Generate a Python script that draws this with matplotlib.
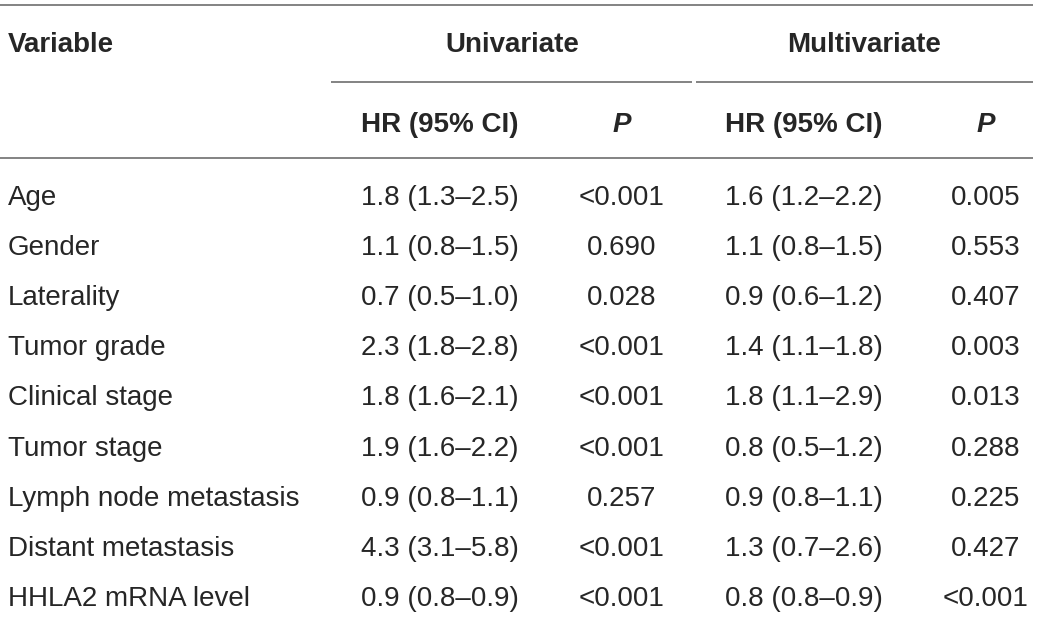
import matplotlib
matplotlib.use("Agg")
import matplotlib.pyplot as plt

variables = ["Age", "Gender", "Laterality", "Tumor grade", "Clinical stage",
             "Tumor stage", "Lymph node metastasis", "Distant metastasis",
             "HHLA2 mRNA level"]
uni_hr = ["1.8 (1.3–2.5)", "1.1 (0.8–1.5)", "0.7 (0.5–1.0)", "2.3 (1.8–2.8)",
          "1.8 (1.6–2.1)", "1.9 (1.6–2.2)", "0.9 (0.8–1.1)", "4.3 (3.1–5.8)",
          "0.9 (0.8–0.9)"]
uni_p = ["<0.001", "0.690", "0.028", "<0.001", "<0.001", "<0.001", "0.257",
         "<0.001", "<0.001"]
multi_hr = ["1.6 (1.2–2.2)", "1.1 (0.8–1.5)", "0.9 (0.6–1.2)", "1.4 (1.1–1.8)",
            "1.8 (1.1–2.9)", "0.8 (0.5–1.2)", "0.9 (0.8–1.1)", "1.3 (0.7–2.6)",
            "0.8 (0.8–0.9)"]
multi_p = ["0.005", "0.553", "0.407", "0.003", "0.013", "0.288", "0.225",
           "0.427", "<0.001"]
group_headers = ["Univariate", "Multivariate"]
sub_headers = ["HR (95% CI)", "P", "HR (95% CI)", "P"]
first_header = "Variable"

W, H = 1040, 617
fig = plt.figure(figsize=(W / 100, H / 100), dpi=100)
ax = fig.add_axes([0, 0, 1, 1])
ax.set_xlim(0, W)
ax.set_ylim(H, 0)
ax.axis("off")

FONT = "Liberation Sans"
FS = 20
TXT = "#262626"
LINE = "#7a7a7a"
LW = 1.3

# layout (baselines)
x_left = 8
x_cols = [440, 622, 804, 986]
x_groups = [512, 864]
y_head1 = 52
y_head2 = 132
y_row0 = 205
dy = 50.1

# rules
ax.plot([0, 1033], [5, 5], color=LINE, lw=LW, solid_capstyle="butt")
ax.plot([331, 692], [82, 82], color=LINE, lw=LW, solid_capstyle="butt")
ax.plot([696, 1033], [82, 82], color=LINE, lw=LW, solid_capstyle="butt")
ax.plot([0, 1033], [158, 158], color=LINE, lw=LW, solid_capstyle="butt")

# headers
ax.text(x_left, y_head1, first_header, ha="left", va="baseline", fontsize=FS,
        fontweight="bold", family=FONT, color=TXT)
for g, x in zip(group_headers, x_groups):
    ax.text(x, y_head1, g, ha="center", va="baseline", fontsize=FS,
            fontweight="bold", family=FONT, color=TXT)
for s, x in zip(sub_headers, x_cols):
    ax.text(x, y_head2, s, ha="center", va="baseline", fontsize=FS,
            fontweight="bold", family=FONT, color=TXT,
            style="italic" if s == "P" else "normal")

# body
for i, v in enumerate(variables):
    y = y_row0 + i * dy
    ax.text(x_left, y, v, ha="left", va="baseline", fontsize=FS, family=FONT, color=TXT)
    for col, x in zip([uni_hr, uni_p, multi_hr, multi_p], x_cols):
        ax.text(x, y, col[i], ha="center", va="baseline", fontsize=FS,
                family=FONT, color=TXT)

fig.savefig("out.png", dpi=100)
